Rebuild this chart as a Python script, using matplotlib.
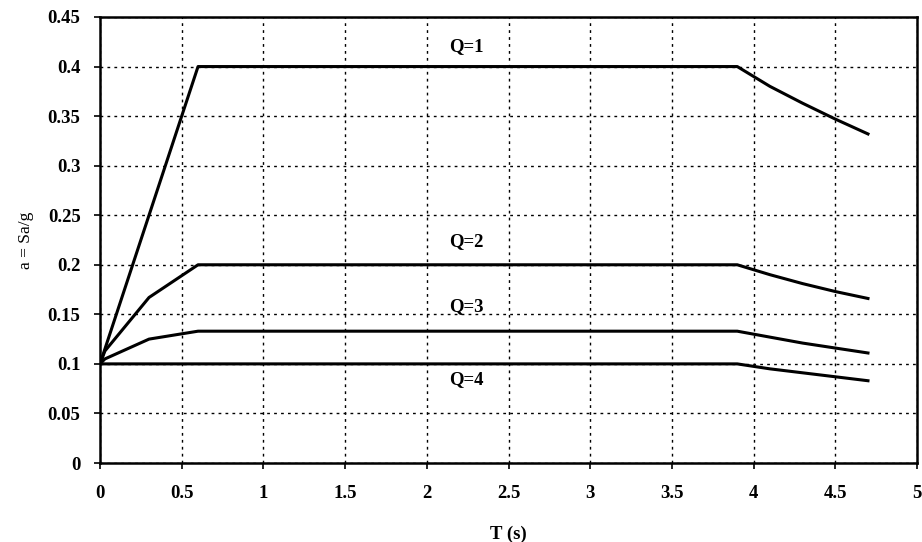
import matplotlib
matplotlib.use("Agg")
import matplotlib.pyplot as plt

T = [0.0, 0.03, 0.3, 0.6, 3.9, 4.1, 4.3, 4.5, 4.7]
q1 = [0.100, 0.115, 0.250, 0.400, 0.400, 0.380, 0.363, 0.347, 0.332]
q2 = [0.100, 0.113, 0.167, 0.200, 0.200, 0.190, 0.181, 0.173, 0.166]
q3 = [0.100, 0.105, 0.125, 0.133, 0.133, 0.127, 0.121, 0.116, 0.111]
q4 = [0.100, 0.100, 0.100, 0.100, 0.100, 0.095, 0.091, 0.087, 0.083]

labels = ["Q=1", "Q=2", "Q=3", "Q=4"]
label_x = [2.24, 2.24, 2.24, 2.24]
label_y = [0.42, 0.223, 0.158, 0.084]

xticks = [0, 0.5, 1, 1.5, 2, 2.5, 3, 3.5, 4, 4.5, 5]
xticklabels = ["0", "0.5", "1", "1.5", "2", "2.5", "3", "3.5", "4", "4.5", "5"]
yticks = [0, 0.05, 0.1, 0.15, 0.2, 0.25, 0.3, 0.35, 0.4, 0.45]
yticklabels = ["0", "0.05", "0.1", "0.15", "0.2", "0.25", "0.3", "0.35", "0.4", "0.45"]

plt.rcParams['font.family'] = ['Liberation Serif', 'DejaVu Serif']

fig = plt.figure(figsize=(9.22, 5.42), dpi=100)
ax = fig.add_axes([100/922, 1-463/542, 817/922, 446/542])

for y in (q1, q2, q3, q4):
    ax.plot(T, y, color='black', lw=2.2, solid_joinstyle='round')

for lab, lx, ly in zip(labels, label_x, label_y):
    ax.text(lx, ly, lab, ha='center', va='center', fontsize=13.5, fontweight='bold')

ax.set_xlim(0, 5)
ax.set_ylim(0, 0.45)
ax.set_xticks(xticks)
ax.set_xticklabels(xticklabels, fontsize=13.5, fontweight='bold')
ax.set_yticks(yticks)
ax.set_yticklabels(yticklabels, fontsize=13.5, fontweight='bold')
ax.grid(True, color='black', linestyle=(0, (2, 3)), linewidth=1.0)
for s in ax.spines.values():
    s.set_linewidth(1.8)
    s.set_color('black')
ax.tick_params(axis='x', direction='out', length=4, width=1.2, pad=12)
ax.tick_params(axis='y', direction='out', length=4, width=1.2, pad=10)
ax.set_xlabel("T (s)", fontsize=13.5, fontweight='bold', labelpad=17)
ax.set_ylabel("a = Sa/g", fontsize=12.5, labelpad=10)

fig.savefig("out.png", dpi=100)
